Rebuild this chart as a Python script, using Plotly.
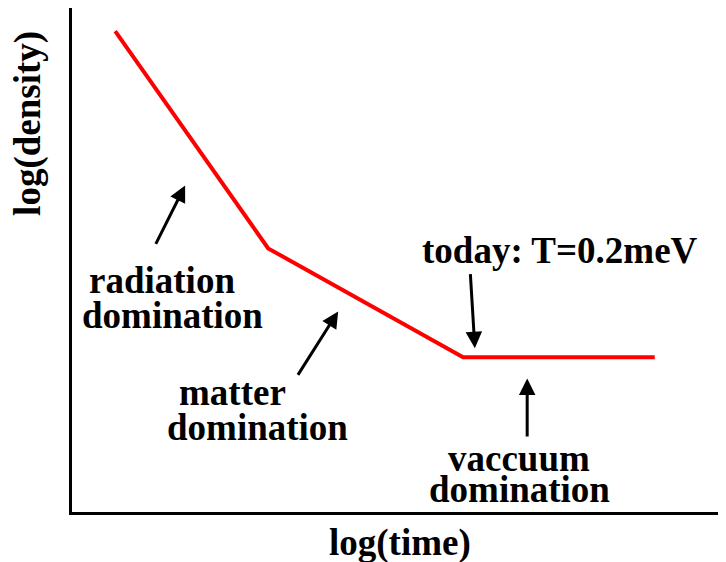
import plotly.graph_objects as go

# Schematic data (arbitrary log units)
log_time = [6.6, 30.0, 59.8, 89.1]
log_density = [95.4, 52.3, 30.7, 30.7]

# Arrow annotations: tail -> head in data units
arrow_tails = [(12.7, 52.9), (34.4, 26.9), (60.9, 47.5), (69.6, 14.7)]
arrow_heads = [(17.3, 64.8), (40.7, 39.8), (61.6, 32.5), (69.6, 26.5)]

# Labels
label_texts = ["radiation", "domination", "matter", "domination",
               "today: T=0.2meV", "vaccuum", "domination"]
label_pos = [(13.8, 45.9), (15.3, 39.0), (24.5, 23.8), (28.4, 16.8),
             (74.6, 51.9), (68.3, 10.7), (68.5, 4.4)]

FONT = dict(family="Liberation Serif", size=37, color="black")

fig = go.Figure()
fig.add_trace(go.Scatter(x=log_time, y=log_density, mode="lines",
                         line=dict(color="#ff0000", width=4),
                         hoverinfo="skip", showlegend=False))

annotations = []
for (tx, ty), (hx, hy) in zip(arrow_tails, arrow_heads):
    annotations.append(dict(x=hx, y=hy, ax=tx, ay=ty, xref="x", yref="y",
                            axref="x", ayref="y", text="", showarrow=True,
                            arrowhead=2, arrowsize=1.1, arrowwidth=3,
                            arrowcolor="black"))
for t, (x, y) in zip(label_texts, label_pos):
    annotations.append(dict(x=x, y=y, xref="x", yref="y", text="<b>%s</b>" % t,
                            showarrow=False, font=FONT, borderpad=0,
                            xanchor="center", yanchor="middle"))

# axis titles
annotations.append(dict(x=0.5015, y=-0.0615, xref="paper", yref="paper",
                        text="<b>log(time)</b>", showarrow=False, font=FONT,
                        borderpad=0, xanchor="center", yanchor="middle"))
annotations.append(dict(x=-0.0673, y=0.772, xref="paper", yref="paper",
                        text="<b>log(density)</b>", showarrow=False, font=FONT,
                        borderpad=0, textangle=-90, xanchor="center", yanchor="middle"))

fig.update_layout(
    width=718, height=554,
    margin=dict(l=64, r=0, t=0, b=50),
    plot_bgcolor="white", paper_bgcolor="white",
    annotations=annotations,
    xaxis=dict(range=[0, 100], showgrid=False, zeroline=False, showticklabels=False,
               ticks="", showline=True, linecolor="black", linewidth=3),
    yaxis=dict(range=[0, 100], showgrid=False, zeroline=False, showticklabels=False,
               ticks="", showline=True, linecolor="black", linewidth=3),
)

fig.write_html("out.html")
